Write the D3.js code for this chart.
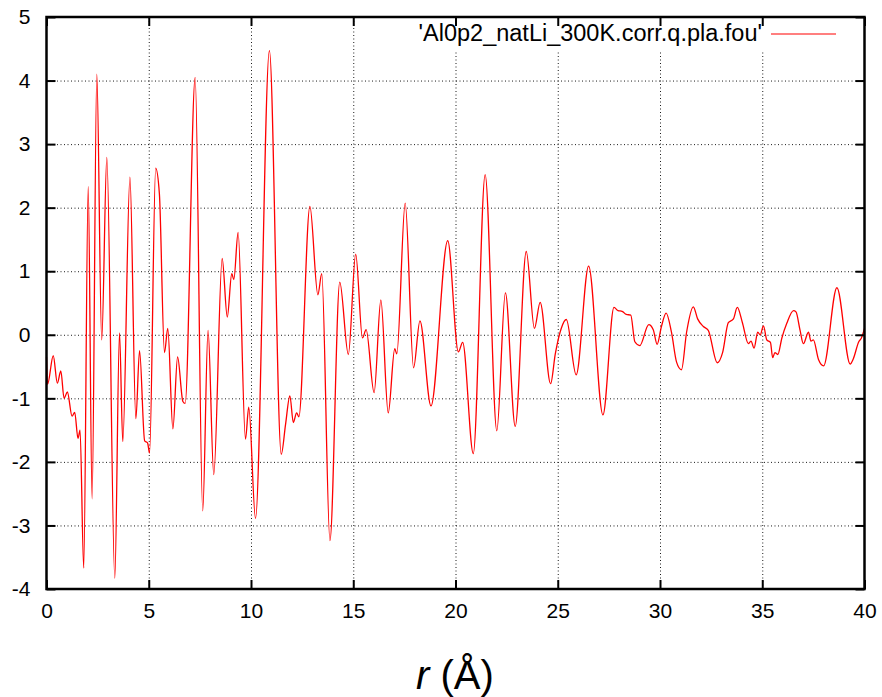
<!DOCTYPE html>
<html>
<head>
<meta charset="utf-8">
<script src="https://cdnjs.cloudflare.com/ajax/libs/d3/7.8.5/d3.min.js"></script>
<style>
	body { margin: 0; background: #fff; }
	.tickText { font-family: "Liberation Sans", Arial, sans-serif; font-size: 21px; fill: #000; }
</style>
</head>
<body>
<div id="canvas"></div>
<script>
// r (Angstrom) and G(r)
var rValues = [0.00, 0.05, 0.33, 0.53, 0.70, 0.86, 1.02, 1.25, 1.38, 1.54, 1.64, 1.82, 2.04, 2.23, 2.46, 2.70, 2.95, 3.34, 3.57, 3.73,
	4.08, 4.37, 4.55, 4.80, 4.94, 5.04, 5.34, 5.52, 5.77, 5.93, 6.18, 6.41, 6.67, 6.78, 7.27, 7.64, 7.90, 8.18, 8.59, 8.84,
	9.06, 9.16, 9.37, 9.73, 9.89, 10.22, 10.90, 11.48, 11.69, 11.90, 12.07, 12.23, 12.34, 12.88, 13.27, 13.46, 13.86, 14.34, 14.76, 15.12,
	15.45, 15.63, 16.02, 16.35, 16.71, 17.03, 17.13, 17.54, 17.95, 18.26, 18.80, 19.62, 20.14, 20.35, 20.87, 21.45, 22.02, 22.44, 22.92, 23.46,
	23.86, 24.14, 24.65, 24.88, 25.17, 25.42, 25.90, 26.51, 27.21, 27.75, 27.95, 28.15, 28.35, 28.57, 28.77, 29.01, 29.45, 29.67, 29.86, 30.07,
	30.30, 30.56, 30.81, 31.05, 31.30, 31.63, 31.84, 32.12, 32.36, 32.80, 33.06, 33.34, 33.59, 33.78, 34.03, 34.32, 34.45, 34.60, 34.78, 34.90,
	35.06, 35.22, 35.40, 35.51, 35.62, 35.76, 35.96, 36.20, 36.53, 36.65, 36.85, 37.01, 37.26, 37.38, 37.50, 37.75, 38.00, 38.65, 39.30, 39.45,
	39.72, 39.85, 40.00];
var gValues = [-0.35, -0.78, -0.33, -0.76, -0.57, -1.00, -0.90, -1.28, -1.22, -1.63, -1.50, -3.67, 2.33, -2.58, 4.10, -0.08, 2.79, -3.83, 0.03, -1.68,
	2.48, -1.32, -0.25, -1.67, -1.70, -1.86, 2.62, 2.22, -0.28, 0.10, -1.48, -0.35, -1.05, -1.08, 4.05, -2.77, 0.07, -2.20, 1.20, 0.28,
	0.96, 0.87, 1.61, -1.64, -1.14, -2.89, 4.47, -1.88, -1.41, -0.96, -1.38, -1.23, -1.29, 2.02, 0.63, 0.96, -3.24, 0.83, -0.31, 1.27,
	-0.05, 0.08, -0.91, 0.55, -1.23, -0.22, -0.30, 2.07, -0.52, 0.22, -1.12, 1.48, -0.27, -0.12, -1.87, 2.52, -1.51, 0.66, -1.44, 1.31,
	0.10, 0.51, -0.77, -0.30, 0.10, 0.24, -0.63, 1.08, -1.26, 0.43, 0.38, 0.37, 0.32, 0.31, -0.11, -0.17, 0.16, 0.08, -0.15, 0.13,
	0.34, 0.04, -0.43, -0.55, 0.04, 0.44, 0.25, 0.13, 0.07, -0.44, -0.28, 0.19, 0.25, 0.43, 0.19, -0.14, -0.10, -0.21, 0.04, 0.00,
	0.14, -0.08, -0.12, -0.36, -0.28, -0.31, -0.05, 0.18, 0.38, 0.36, 0.07, -0.14, 0.04, -0.10, -0.08, -0.39, -0.49, 0.74, -0.46, -0.38,
	-0.11, -0.05, 0.10];
var xTicks = [0, 5, 10, 15, 20, 25, 30, 35, 40];
var yTicks = [-4, -3, -2, -1, 0, 1, 2, 3, 4, 5];
var legendLabel = "'Al0p2_natLi_300K.corr.q.pla.fou'";

var w = 882, h = 697;
var plotLeft = 46.5, plotRight = 864.5, plotTop = 17, plotBottom = 589;

var svg = d3.select("#canvas")
	.append("svg")
	.attr("width", w)
	.attr("height", h);

var xScale = d3.scaleLinear()
	.domain([0, 40])
	.range([plotLeft, plotRight]);

var yScale = d3.scaleLinear()
	.domain([-4, 5])
	.range([plotBottom, plotTop]);

// plain hyphen for negatives, like gnuplot
var tickFormatter = function(d){ return String(d); };

// dotted grid
svg.append("g")
	.attr("transform", "translate(0," + plotBottom + ")")
	.call(d3.axisBottom(xScale).tickValues(xTicks.slice(1, -1)).tickSize(-(plotBottom - plotTop)).tickFormat(""))
	.call(function(g){
		g.select(".domain").remove();
		g.selectAll("line").attr("stroke", "#000").attr("stroke-width", 0.9).attr("stroke-dasharray", "1,2.5");
	});

svg.append("g")
	.attr("transform", "translate(" + plotLeft + ",0)")
	.call(d3.axisLeft(yScale).tickValues(yTicks.slice(1, -1)).tickSize(-(plotRight - plotLeft)).tickFormat(""))
	.call(function(g){
		g.select(".domain").remove();
		g.selectAll("line").attr("stroke", "#000").attr("stroke-width", 0.9).attr("stroke-dasharray", "1,2.5");
	});

// data line
var line = d3.line()
	.x(function(d){ return xScale(d); })
	.y(function(d, i){ return yScale(gValues[i]); })
	.curve(d3.curveMonotoneX);

svg.append("path")
	.attr("d", line(rValues))
	.attr("fill", "none")
	.attr("stroke", "#ff0000")
	.attr("stroke-width", 1.3);

// key (opaque)
svg.append("rect")
	.attr("x", 408)
	.attr("y", plotTop + 1)
	.attr("width", 442)
	.attr("height", 33)
	.attr("fill", "#fff");

svg.append("text")
	.attr("x", 762)
	.attr("y", 41)
	.attr("text-anchor", "end")
	.attr("font-family", "Liberation Sans, Arial, sans-serif")
	.attr("font-size", 23.5)
	.attr("fill", "#000")
	.text(legendLabel);

svg.append("line")
	.attr("x1", 771)
	.attr("x2", 836)
	.attr("y1", 34)
	.attr("y2", 34)
	.attr("stroke", "#ff0000")
	.attr("stroke-width", 1.2);

// ticks, inside and mirrored
function styleTicks(g){
	g.select(".domain").remove();
	g.selectAll("line").attr("stroke", "#000").attr("stroke-width", 2);
	g.selectAll("text").attr("class", "tickText");
}

svg.append("g")
	.attr("transform", "translate(0," + plotBottom + ")")
	.call(d3.axisBottom(xScale).tickValues(xTicks).tickSize(-9).tickPadding(14).tickFormat(tickFormatter))
	.call(styleTicks);

svg.append("g")
	.attr("transform", "translate(0," + plotTop + ")")
	.call(d3.axisTop(xScale).tickValues(xTicks).tickSize(-9).tickFormat(""))
	.call(styleTicks);

svg.append("g")
	.attr("transform", "translate(" + plotLeft + ",0)")
	.call(d3.axisLeft(yScale).tickValues(yTicks).tickSize(-9).tickPadding(16).tickFormat(tickFormatter))
	.call(styleTicks);

svg.append("g")
	.attr("transform", "translate(" + plotRight + ",0)")
	.call(d3.axisRight(yScale).tickValues(yTicks).tickSize(-9).tickFormat(""))
	.call(styleTicks);

// border
svg.append("rect")
	.attr("x", plotLeft)
	.attr("y", plotTop)
	.attr("width", plotRight - plotLeft)
	.attr("height", plotBottom - plotTop)
	.attr("fill", "none")
	.attr("stroke", "#000")
	.attr("stroke-width", 2.5);

// axis title
var title = svg.append("text")
	.attr("x", 455)
	.attr("y", 689)
	.attr("text-anchor", "middle")
	.attr("font-family", "Liberation Sans, Arial, sans-serif")
	.attr("font-size", 40)
	.attr("fill", "#000");
title.append("tspan").attr("font-style", "italic").text("r");
title.append("tspan").text(" (Å)");
</script>
</body>
</html>
